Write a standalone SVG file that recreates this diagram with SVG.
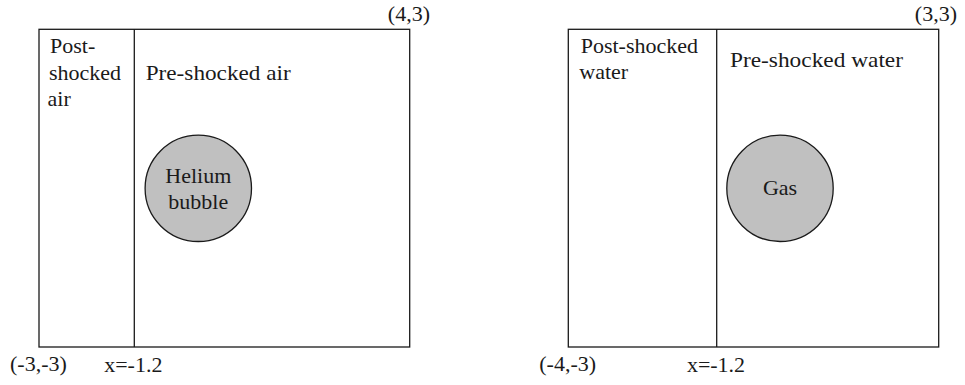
<svg xmlns="http://www.w3.org/2000/svg" width="965" height="385" viewBox="0 0 965 385">
<style>
text{font-size:22px;fill:#1a1a1a}
.box{fill:#fff;stroke:#1a1a1a;stroke-width:1.3}
.div{stroke:#1a1a1a;stroke-width:1.3;fill:none}
.bub{fill:#c0c0c0;stroke:#1a1a1a;stroke-width:1.3}
.m{text-anchor:middle}
.e{text-anchor:end}
</style>
<rect width="965" height="385" fill="#fff"/>
<g font-family="Liberation Serif, Times New Roman, serif">
<g id="left-domain">
<rect class="box" x="39" y="29.3" width="370.7" height="317.7"/>
<text x="10" y="371">(-3,-3)</text>
<text class="e" x="430" y="21">(4,3)</text>
</g>
<g id="left-post">
<text x="50" y="53">Post-</text>
<text x="49" y="80">shocked</text>
<text x="47.5" y="106">air</text>
</g>
<g id="left-pre">
<text x="145.7" y="80" textLength="145" lengthAdjust="spacingAndGlyphs">Pre-shocked air</text>
</g>
<g id="left-bubble">
<circle class="bub" cx="198.3" cy="188.3" r="53.2"/>
<text class="m" x="198.3" y="182.7">Helium</text>
<text class="m" x="198.3" y="209.3">bubble</text>
</g>
<g id="right-domain">
<rect class="box" x="568.3" y="29.3" width="370.4" height="317.7"/>
<text x="539.3" y="371">(-4,-3)</text>
<text class="e" x="957" y="21">(3,3)</text>
</g>
<g id="right-post">
<text x="580.7" y="53">Post-shocked</text>
<text x="579.3" y="79">water</text>
</g>
<g id="right-pre">
<text x="730" y="66.7" textLength="173" lengthAdjust="spacingAndGlyphs">Pre-shocked water</text>
</g>
<g id="right-bubble">
<circle class="bub" cx="780" cy="188.3" r="53.2"/>
<text class="m" x="780" y="195">Gas</text>
</g>
<g id="connectors">
<line class="div" x1="134.3" y1="29.3" x2="134.3" y2="347"/>
<text class="m" x="133.3" y="372">x=-1.2</text>
<line class="div" x1="716.7" y1="29.3" x2="716.7" y2="347"/>
<text class="m" x="716" y="372">x=-1.2</text>
</g>
</g>
</svg>
